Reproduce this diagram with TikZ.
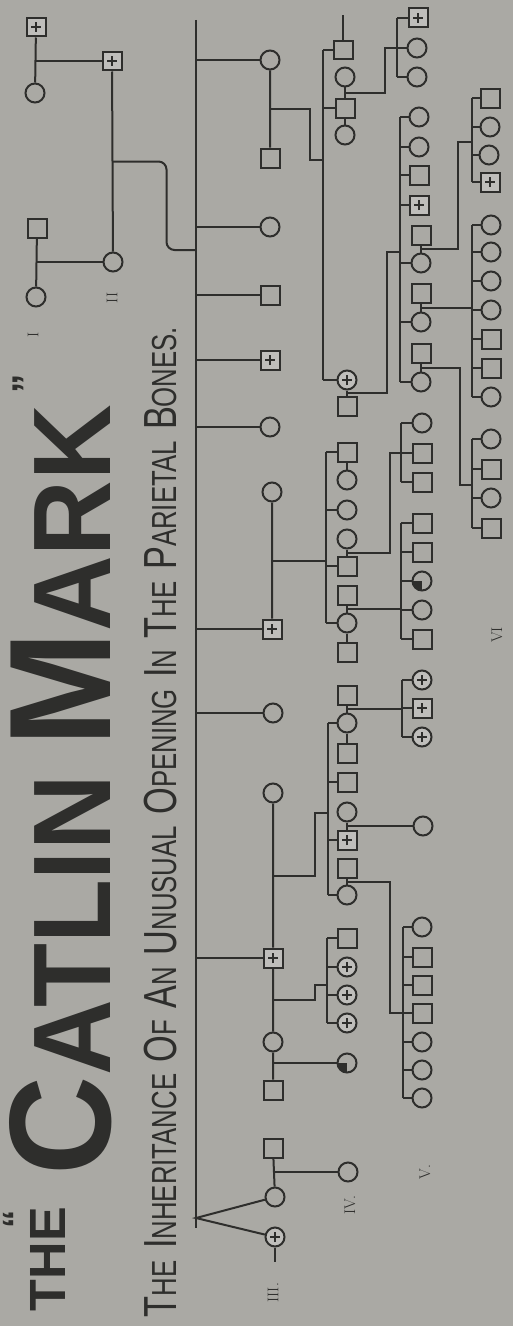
\documentclass[tikz,border=0pt]{standalone}
\usepackage{fontspec}
\usepackage{graphicx}
\usetikzlibrary{calc}
\newfontfamily\headfont{Liberation Sans}
\definecolor{paper}{RGB}{170,169,164}
\definecolor{ink}{RGB}{46,46,44}
\colorlet{lightpaper}{paper!75!white}
\newcommand\capbig[1]{{\fontsize{20}{20}\selectfont #1}}
\newcommand\capsmall[1]{{\fontsize{15}{15}\selectfont #1}}

\begin{document}
\begin{tikzpicture}[x=0.05cm, y=-0.05cm, line width=0.1cm, color=ink,
    male/.style={draw=ink, fill=paper, rectangle, minimum size=0.95cm, inner sep=0pt},
    female/.style={draw=ink, fill=paper, circle, minimum size=0.95cm, inner sep=0pt},
    aff/.style={fill=lightpaper, path picture={
        \draw[line width=0.06cm] ([xshift=-0.25cm]path picture bounding box.center) -- ([xshift=0.25cm]path picture bounding box.center);
        \draw[line width=0.06cm] ([yshift=-0.25cm]path picture bounding box.center) -- ([yshift=0.25cm]path picture bounding box.center);}},
    part/.style={path picture={\fill[ink] (path picture bounding box.center) rectangle (path picture bounding box.south west);}},
    genlabel/.style={rotate=90, inner sep=0pt, font=\fontsize{22}{22}\selectfont},
    heading/.style={rotate=90, anchor=base west, inner sep=0pt}]

        % paper
        \fill[paper] (0,0) rectangle (513,1326);
        \useasboundingbox (0,0) rectangle (513,1326);

        % heading
        \node[rotate=90, inner sep=0pt, font=\headfont\bfseries\fontsize{52}{52}\selectfont] (qopen) at (16,1219) {“};
        \node[heading] (the) at (65,1312) {\resizebox{5.2cm}{1.75cm}{\headfont\bfseries THE}};
        \node[heading] (catlin) at (110,1176)
            {\resizebox{38.5cm}{5.05cm}{\headfont\bfseries\fontsize{40}{40}\selectfont C\fontsize{30.5}{30}\selectfont ATLIN \fontsize{40}{40}\selectfont M\fontsize{30.5}{30}\selectfont ARK}};
        \node[rotate=90, inner sep=0pt, font=\headfont\bfseries\fontsize{55}{55}\selectfont] (qclose) at (26,384) {”};
        \node[heading] (subtitle) at (176,1318)
            {\resizebox{49.5cm}{1.62cm}{\headfont\fontsize{24}{24}\selectfont \capbig{T}\capsmall{HE} \capbig{I}\capsmall{NHERITANCE} \capbig{O}\capsmall{F} \capbig{A}\capsmall{N} \capbig{U}\capsmall{NUSUAL} \capbig{O}\capsmall{PENING} \capbig{I}\capsmall{N} \capbig{T}\capsmall{HE} \capbig{P}\capsmall{ARIETAL} \capbig{B}\capsmall{ONES.}}};

        % generation labels
        \node[genlabel] (rI) at (33,335) {I};
        \node[genlabel] (rII) at (112,298) {II};
        \node[genlabel] (rIII) at (273,1293) {III.};
        \node[genlabel] (rIV) at (350,1205) {IV.};
        \node[genlabel] (rV) at (425,1172) {V.};
        \node[genlabel] (rVI) at (497,635) {VI};

        % generation I and II
        \node[male, aff] (I1) at (36,27) {};
        \node[female] (I2) at (35,93) {};
        \node[male] (I3) at (37,228) {};
        \node[female] (I4) at (36,297) {};
        \node[male, aff] (II1) at (112,61) {};
        \node[female] (II2) at (113,262) {};

        % generation III
        \node[female] (III1) at (270,60) {};
        \node[male] (III2) at (270,158) {};
        \node[female] (III3) at (270,227) {};
        \node[male] (III4) at (270,295) {};
        \node[male, aff] (III5) at (270,360) {};
        \node[female] (III6) at (270,427) {};
        \node[female] (III7) at (272,492) {};
        \node[male, aff] (III8) at (272,629) {};
        \node[female] (III9) at (273,713) {};
        \node[female] (III10) at (273,793) {};
        \node[male, aff] (III11) at (273,958) {};
        \node[female] (III12) at (273,1042) {};
        \node[male] (III13) at (273,1090) {};
        \node[male] (III14) at (273,1148) {};
        \node[female] (III15) at (275,1197) {};
        \node[female, aff] (III16) at (275,1237) {};

        % generation IV
        \node[male] (A1) at (343,50) {};
        \node[female] (A2) at (345,77) {};
        \node[male] (A3) at (345,108) {};
        \node[female] (A4) at (345,135) {};
        \node[female, aff] (A5) at (347,380) {};
        \node[male] (A6) at (347,406) {};

        \node[male] (G1) at (347,452) {};
        \node[female] (G2) at (347,480) {};
        \node[female] (G3) at (347,510) {};
        \node[female] (G4) at (347,539) {};
        \node[male] (G5) at (347,566) {};
        \node[male] (G6) at (347,595) {};
        \node[female] (G7) at (347,623) {};
        \node[male] (G8) at (347,652) {};

        \node[male] (L1) at (347,695) {};
        \node[female] (L2) at (347,723) {};
        \node[male] (L3) at (347,753) {};
        \node[male] (L4) at (347,782) {};
        \node[female] (L5) at (347,812) {};
        \node[male, aff] (L6) at (347,840) {};
        \node[male] (L7) at (347,868) {};
        \node[female] (L8) at (347,895) {};

        \node[male] (Q1) at (347,938) {};
        \node[female, aff] (Q2) at (347,967) {};
        \node[female, aff] (Q3) at (347,995) {};
        \node[female, aff] (Q4) at (347,1023) {};
        \node[female, part] (R1) at (347,1063) {};
        \node[female] (S1) at (348,1172) {};

        % generation V
        \node[male, aff] (B1) at (418,18) {};
        \node[female] (B2) at (417,48) {};
        \node[female] (B3) at (417,77) {};

        \node[female] (C1) at (419,117) {};
        \node[female] (C2) at (419,147) {};
        \node[male] (C3) at (419,175) {};
        \node[male, aff] (C4) at (419,205) {};
        \node[male] (C5) at (421,235) {};
        \node[female] (C6) at (421,263) {};
        \node[male] (C7) at (421,293) {};
        \node[female] (C8) at (421,322) {};
        \node[male] (C9) at (421,353) {};
        \node[female] (C10) at (421,382) {};

        \node[female] (H1) at (422,423) {};
        \node[male] (H2) at (422,453) {};
        \node[male] (H3) at (422,482) {};

        \node[male] (K1) at (422,523) {};
        \node[male] (K2) at (422,552) {};
        \node[female, part] (K3) at (422,581) {};
        \node[female] (K4) at (422,610) {};
        \node[male] (K5) at (422,639) {};

        \node[female, aff] (M1) at (422,680) {};
        \node[male, aff] (M2) at (422,708) {};
        \node[female, aff] (M3) at (422,737) {};
        \node[female] (N1) at (423,826) {};

        \node[female] (P1) at (422,927) {};
        \node[male] (P2) at (422,957) {};
        \node[male] (P3) at (422,985) {};
        \node[male] (P4) at (422,1013) {};
        \node[female] (P5) at (422,1042) {};
        \node[female] (P6) at (422,1070) {};
        \node[female] (P7) at (422,1098) {};

        % generation VI
        \node[male] (D1) at (490,98) {};
        \node[female] (D2) at (490,127) {};
        \node[female] (D3) at (489,155) {};
        \node[male, aff] (D4) at (490,182) {};

        \node[female] (E1) at (491,225) {};
        \node[female] (E2) at (491,252) {};
        \node[female] (E3) at (491,281) {};
        \node[female] (E4) at (491,310) {};
        \node[male] (E5) at (491,339) {};
        \node[male] (E6) at (491,368) {};
        \node[female] (E7) at (491,397) {};

        \node[female] (F1) at (491,439) {};
        \node[male] (F2) at (491,469) {};
        \node[female] (F3) at (491,498) {};
        \node[male] (F4) at (491,528) {};

        % I and II
        \draw (I1) -- (I2) (I3) -- (I4);
        \draw (II1) -- (II1 -| I1) (II2) -- (II2 -| I3);
        \draw (II1) -- (II2);
        \coordinate (jII) at ($(II1)!0.5!(II2)$);
        \coordinate (sIII) at (196,250);
        \draw[rounded corners=0.4cm] (jII) -- ++(54,0) |- (sIII);

        % III
        \coordinate (mainTop) at (196,20);
        \coordinate (apex) at (196,1218);
        \coordinate (mainEnd) at (196,1228);
        \draw (mainTop) -- (mainEnd);
        \draw (III1) -- (III1 -| sIII) (III3) -- (III3 -| sIII) (III4) -- (III4 -| sIII)
              (III5) -- (III5 -| sIII) (III6) -- (III6 -| sIII) (III8) -- (III8 -| sIII)
              (III9) -- (III9 -| sIII) (III11) -- (III11 -| sIII);
        \draw (III15) -- (apex) -- (III16);
        \coordinate (III16end) at (275,1262);
        \draw (III16) -- (III16end);
        \draw (III1) -- (III2) (III7) -- (III8) (III10) -- (III11) (III11) -- (III12)
              (III12) -- (III13) (III14) -- (III15);

        % IV from III
        \coordinate (jA) at ($(III1)!0.5!(III2)$);
        \coordinate (sA) at (323,160);
        \draw (jA) -- ++(40,0) |- (sA);
        \draw (A1 -| sA) -- (A5 -| sA);
        \draw (A1) -- (A1 -| sA) (A3) -- (A3 -| sA) (A5) -- (A5 -| sA);
        \coordinate (A1top) at (343,15);
        \draw (A1) -- (A1top) (A2) -- (A3) (A3) -- (A4) (A5) -- (A6);

        \coordinate (jG) at ($(III7)!0.5!(III8)$);
        \coordinate (sG) at (326,562);
        \draw (jG) -- (jG -| sG);
        \draw (G1 -| sG) -- (G7 -| sG);
        \draw (G1) -- (G1 -| sG) (G3) -- (G3 -| sG) (G5) -- (G5 -| sG) (G7) -- (G7 -| sG);
        \draw (G1) -- (G2) (G4) -- (G5) (G6) -- (G7) (G7) -- (G8);

        \coordinate (jL) at ($(III10)!0.5!(III11)$);
        \coordinate (sL) at (328,813);
        \draw (jL) -- ++(42,0) |- (sL);
        \draw (L2 -| sL) -- (L8 -| sL);
        \draw (L2) -- (L2 -| sL) (L4) -- (L4 -| sL) (L6) -- (L6 -| sL) (L8) -- (L8 -| sL);
        \draw (L1) -- (L2) (L2) -- (L3) (L5) -- (L6) (L7) -- (L8);

        \coordinate (jQ) at ($(III11)!0.5!(III12)$);
        \coordinate (sQ) at (327,985);
        \draw (jQ) -- ++(42,0) |- (sQ);
        \draw (Q1 -| sQ) -- (Q4 -| sQ);
        \draw (Q1) -- (Q1 -| sQ) (Q2) -- (Q2 -| sQ) (Q3) -- (Q3 -| sQ) (Q4) -- (Q4 -| sQ);

        \coordinate (jR) at ($(III12)!0.5!(III13)$);
        \draw (R1) -- (R1 -| jR);
        \coordinate (jS) at ($(III14)!0.5!(III15)$);
        \draw (S1) -- (S1 -| jS);

        % V from IV
        \coordinate (jB) at ($(A2)!0.5!(A3)$);
        \coordinate (sB) at (397,48);
        \draw (jB) -- ++(40,0) |- (sB);
        \draw (B1 -| sB) -- (B3 -| sB);
        \draw (B1) -- (B1 -| sB) (B2) -- (B2 -| sB) (B3) -- (B3 -| sB);

        \coordinate (jC) at ($(A5)!0.5!(A6)$);
        \coordinate (sC) at (400,252);
        \draw (jC) -- ++(40,0) |- (sC);
        \draw (C1 -| sC) -- (C10 -| sC);
        \draw (C1) -- (C1 -| sC) (C2) -- (C2 -| sC) (C3) -- (C3 -| sC) (C4) -- (C4 -| sC)
              (C6) -- (C6 -| sC) (C8) -- (C8 -| sC) (C10) -- (C10 -| sC);
        \draw (C5) -- (C6) (C7) -- (C8) (C9) -- (C10);

        \coordinate (jH) at ($(G4)!0.5!(G5)$);
        \coordinate (sH) at (401,453);
        \draw (jH) -- ++(43,0) |- (sH);
        \draw (H1 -| sH) -- (H3 -| sH);
        \draw (H1) -- (H1 -| sH) (H2) -- (H2 -| sH) (H3) -- (H3 -| sH);

        \coordinate (jK) at ($(G6)!0.5!(G7)$);
        \coordinate (sK) at (401,610);
        \draw (jK) -- (jK -| sK);
        \draw (K1 -| sK) -- (K5 -| sK);
        \draw (K1) -- (K1 -| sK) (K2) -- (K2 -| sK) (K3) -- (K3 -| sK) (K4) -- (K4 -| sK) (K5) -- (K5 -| sK);

        \coordinate (jM) at ($(L1)!0.5!(L2)$);
        \coordinate (sM) at (402,710);
        \draw (jM) -- (jM -| sM);
        \draw (M1 -| sM) -- (M3 -| sM);
        \draw (M1) -- (M1 -| sM) (M2) -- (M2 -| sM) (M3) -- (M3 -| sM);

        \coordinate (jN) at ($(L5)!0.5!(L6)$);
        \draw (N1) -- (N1 -| jN);

        \coordinate (jP) at ($(L7)!0.5!(L8)$);
        \coordinate (sP) at (403,1013);
        \draw (jP) -- ++(43,0) |- (sP);
        \draw (P1 -| sP) -- (P7 -| sP);
        \draw (P1) -- (P1 -| sP) (P2) -- (P2 -| sP) (P3) -- (P3 -| sP) (P4) -- (P4 -| sP)
              (P5) -- (P5 -| sP) (P6) -- (P6 -| sP) (P7) -- (P7 -| sP);

        % VI from V
        \coordinate (jD) at ($(C5)!0.5!(C6)$);
        \coordinate (sD) at (472,142);
        \draw (jD) -- ++(37,0) |- (sD);
        \draw (D1 -| sD) -- (D4 -| sD);
        \draw (D1) -- (D1 -| sD) (D2) -- (D2 -| sD) (D3) -- (D3 -| sD) (D4) -- (D4 -| sD);

        \coordinate (jE) at ($(C7)!0.5!(C8)$);
        \coordinate (sE) at (472,309);
        \draw (jE) -- (jE -| sE);
        \draw (E1 -| sE) -- (E7 -| sE);
        \draw (E1) -- (E1 -| sE) (E2) -- (E2 -| sE) (E3) -- (E3 -| sE) (E4) -- (E4 -| sE)
              (E5) -- (E5 -| sE) (E6) -- (E6 -| sE) (E7) -- (E7 -| sE);

        \coordinate (jF) at ($(C9)!0.5!(C10)$);
        \coordinate (sF) at (472,485);
        \draw (jF) -- ++(39,0) |- (sF);
        \draw (F1 -| sF) -- (F4 -| sF);
        \draw (F1) -- (F1 -| sF) (F2) -- (F2 -| sF) (F3) -- (F3 -| sF) (F4) -- (F4 -| sF);
\end{tikzpicture}
\end{document}
